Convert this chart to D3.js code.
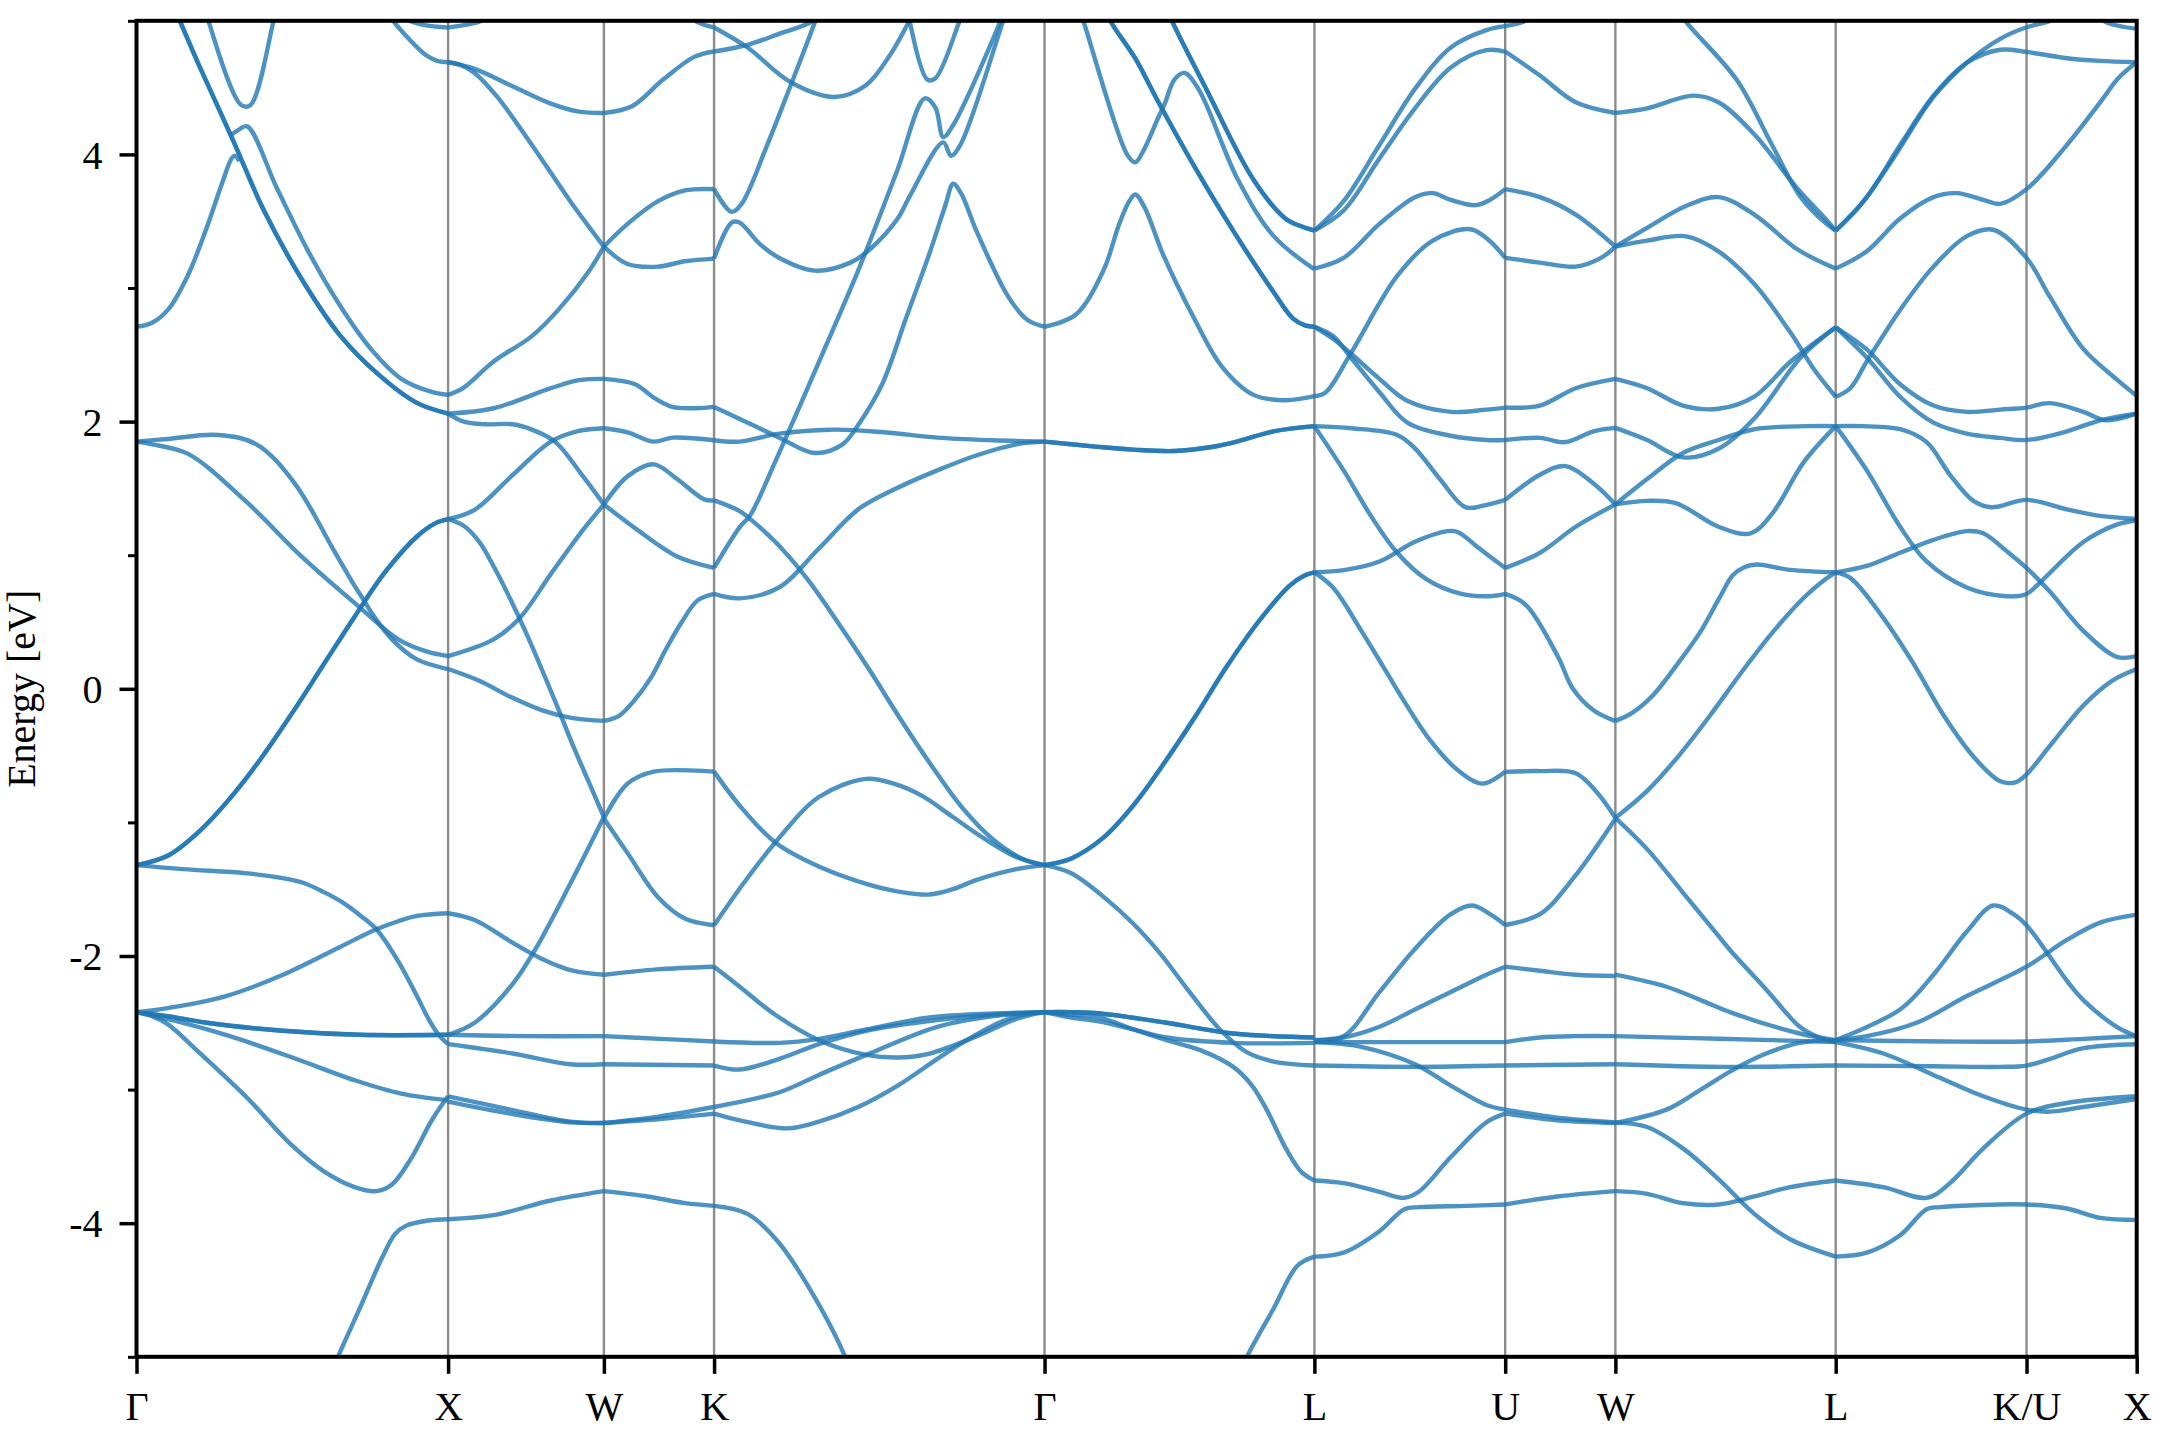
<!DOCTYPE html>
<html><head><meta charset="utf-8">
<script src="https://cdn.jsdelivr.net/npm/d3@7"></script>
<style>html,body{margin:0;padding:0;background:#fff;} svg{display:block;}</style>
</head><body><div id="chart"></div>
<script>
// High-symmetry path (k in units of 2π/a) and labels
const kTicks = [0, 1.0, 1.5, 1.8536, 2.9142, 3.7802, 4.3926, 4.7462, 5.4533, 6.0657, 6.4193];
const kLabels = ["Γ", "X", "W", "K", "Γ", "L", "U", "W", "L", "K/U", "X"];
const yMajor = [-4, -2, 0, 2, 4];
const yMinor = [-5, -3, -1, 1, 3, 5];

// Bands, segment by segment: each curve is a list of [k, E(eV)]
const gxPair = [[0.12,5.1],[0.139,5.0],[0.2,4.67],[0.311,4.10],[0.409,3.58],[0.532,3.06],[0.655,2.64],[0.778,2.35],[0.9,2.14],[1.0,2.06]];
const gxRise = [[0,-1.32],[0.1,-1.25],[0.2,-1.07],[0.3,-0.82],[0.4,-0.52],[0.5,-0.18],[0.6,0.18],[0.7,0.54],[0.8,0.88],[0.9,1.14],[0.96,1.24],[1.0,1.27]];
const gxFlat = [[0,-2.42],[0.1,-2.45],[0.225,-2.50],[0.47,-2.56],[0.716,-2.59],[1.0,-2.59]];
const bandsGX = [
  gxPair, gxPair, gxRise, gxRise, gxFlat, gxFlat,
  [[0,2.71],[0.05,2.74],[0.102,2.84],[0.164,3.09],[0.225,3.45],[0.274,3.78],[0.305,3.97],[0.315,3.99],[0.33,3.95]],
  [[0.30,4.14],[0.325,4.18],[0.355,4.21],[0.45,3.75],[0.55,3.28],[0.65,2.88],[0.75,2.55],[0.85,2.32],[0.95,2.22],[1.0,2.20]],
  [[0.22,5.1],[0.231,5.0],[0.336,4.37],[0.366,4.37],[0.44,5.0],[0.452,5.1]],
  [[0.81,5.05],[0.827,4.99],[0.876,4.86],[0.925,4.75],[0.965,4.70],[1.0,4.69]],
  [[0.84,5.03],[0.92,4.97],[1.0,4.95]],
  [[0,1.85],[0.1,1.87],[0.262,1.90],[0.385,1.83],[0.507,1.54],[0.63,1.05],[0.70,0.77],[0.725,0.68],[0.76,0.55],[0.82,0.37],[0.9,0.22],[1.0,0.148]],
  [[0,1.85],[0.05,1.83],[0.164,1.76],[0.348,1.41],[0.532,0.985],[0.716,0.61],[0.84,0.37],[0.93,0.28],[1.0,0.245]],
  [[0,-1.32],[0.15,-1.35],[0.348,-1.38],[0.45,-1.41],[0.532,-1.45],[0.6,-1.52],[0.655,-1.59],[0.72,-1.70],[0.77,-1.80],[0.84,-2.04],[0.9,-2.3],[0.937,-2.47],[0.97,-2.59],[1.0,-2.66]],
  [[0,-2.42],[0.1,-2.39],[0.287,-2.30],[0.47,-2.14],[0.655,-1.93],[0.77,-1.80],[0.84,-1.74],[0.9,-1.70],[1.0,-1.68]],
  [[0,-2.42],[0.15,-2.5],[0.3,-2.6],[0.5,-2.76],[0.7,-2.93],[0.85,-3.03],[1.0,-3.08]],
  [[0,-2.42],[0.05,-2.45],[0.1,-2.51],[0.2,-2.72],[0.35,-3.05],[0.5,-3.42],[0.6,-3.61],[0.7,-3.73],[0.77,-3.76],[0.82,-3.71],[0.88,-3.52],[0.95,-3.22],[1.0,-3.05]],
  [[0.63,-5.1],[0.643,-5.02],[0.716,-4.64],[0.79,-4.25],[0.83,-4.08],[0.864,-4.02],[0.937,-3.98],[1.0,-3.97]]
];

const bandsXW = [
  [[1.0,4.95],[1.08,4.98],[1.16,5.05]],
  [[1.0,4.69],[1.085,4.64],[1.207,4.51],[1.33,4.38],[1.42,4.32],[1.5,4.31]],
  [[1.0,4.69],[1.04,4.67],[1.085,4.61],[1.158,4.43],[1.269,4.07],[1.392,3.65],[1.5,3.31]],
  [[1.0,2.20],[1.048,2.25],[1.146,2.45],[1.269,2.64],[1.355,2.84],[1.453,3.13],[1.5,3.31]],
  [[1.0,2.06],[1.146,2.10],[1.33,2.25],[1.42,2.31],[1.5,2.32]],
  [[1.0,2.06],[1.05,2.0],[1.12,1.98],[1.207,1.98],[1.269,1.94],[1.343,1.85],[1.43,1.60],[1.5,1.38]],
  [[1.0,1.27],[1.085,1.34],[1.207,1.60],[1.33,1.85],[1.42,1.93],[1.5,1.95]],
  [[1.0,1.27],[1.05,1.22],[1.1,1.1],[1.15,0.9],[1.2,0.67],[1.25,0.42],[1.3,0.15],[1.35,-0.13],[1.4,-0.42],[1.45,-0.69],[1.5,-0.96]],
  [[1.0,0.245],[1.146,0.37],[1.23,0.53],[1.33,0.86],[1.43,1.18],[1.5,1.38]],
  [[1.0,0.148],[1.1,0.06],[1.2,-0.06],[1.3,-0.16],[1.4,-0.22],[1.5,-0.24]],
  [[1.0,-1.68],[1.085,-1.73],[1.2,-1.89],[1.3,-2.02],[1.4,-2.11],[1.5,-2.14]],
  [[1.0,-2.59],[1.085,-2.5],[1.207,-2.21],[1.28,-1.95],[1.392,-1.46],[1.5,-0.96]],
  [[1.0,-2.59],[1.25,-2.60],[1.5,-2.60]],
  [[1.0,-2.66],[1.207,-2.73],[1.392,-2.81],[1.5,-2.81]],
  [[1.0,-3.05],[1.2,-3.15],[1.392,-3.24],[1.5,-3.25]],
  [[1.0,-3.09],[1.2,-3.18],[1.392,-3.245],[1.5,-3.25]],
  [[1.0,-3.97],[1.146,-3.94],[1.33,-3.83],[1.5,-3.76]]
];

const bandsWK = [
  [[1.5,4.31],[1.59,4.36],[1.69,4.56],[1.79,4.73],[1.8536,4.77]],
  [[1.77,5.05],[1.8,4.99],[1.8536,4.95]],
  [[1.5,3.31],[1.576,3.48],[1.674,3.65],[1.76,3.73],[1.8536,3.74]],
  [[1.5,3.31],[1.576,3.18],[1.674,3.16],[1.76,3.2],[1.8536,3.22]],
  [[1.5,2.32],[1.6,2.28],[1.66,2.18],[1.72,2.11],[1.79,2.10],[1.8536,2.11]],
  [[1.5,1.95],[1.576,1.92],[1.66,1.85],[1.72,1.88],[1.8536,1.86]],
  [[1.5,1.38],[1.576,1.59],[1.66,1.68],[1.735,1.57],[1.82,1.42],[1.8536,1.41]],
  [[1.5,1.38],[1.613,1.18],[1.735,0.99],[1.8536,0.905]],
  [[1.5,-0.24],[1.55,-0.2],[1.6,-0.08],[1.65,0.08],[1.7,0.3],[1.75,0.5],[1.8,0.66],[1.8536,0.71]],
  [[1.5,-0.97],[1.576,-0.71],[1.66,-0.62],[1.8536,-0.62]],
  [[1.5,-0.97],[1.576,-1.23],[1.674,-1.56],[1.76,-1.72],[1.8536,-1.77]],
  [[1.5,-2.14],[1.67,-2.10],[1.8536,-2.08]],
  [[1.5,-2.60],[1.68,-2.62],[1.8536,-2.64]],
  [[1.5,-2.81],[1.8536,-2.82]],
  [[1.5,-3.25],[1.68,-3.2],[1.8536,-3.13]],
  [[1.5,-3.25],[1.68,-3.22],[1.8536,-3.18]],
  [[1.5,-3.76],[1.64,-3.80],[1.76,-3.85],[1.8536,-3.87]]
];

const bandsKG = [
  [[1.8536,4.95],[1.961,4.80],[2.1,4.54],[2.24,4.43],[2.342,4.52],[2.42,4.75],[2.48,5.0],[2.49,5.05]],
  [[1.8536,4.77],[1.961,4.82],[2.06,4.90],[2.164,4.99],[2.19,5.05]],
  [[2.478,5.05],[2.482,4.99],[2.538,4.56],[2.564,4.57],[2.64,4.99],[2.65,5.05]],
  [[1.8536,3.74],[1.91,3.57],[1.942,3.63],[2.024,4.07],[2.1,4.52],[2.177,4.99],[2.19,5.08]],
  [[1.8536,3.22],[1.91,3.49],[1.935,3.49],[2.0,3.33],[2.063,3.225],[2.177,3.13],[2.291,3.19],[2.354,3.29],[2.443,3.52],[2.48,3.68],[2.589,4.09],[2.614,3.99],[2.646,4.08],[2.78,4.99],[2.79,5.05]],
  [[1.8536,2.11],[1.936,2.02],[2.063,1.88],[2.177,1.765],[2.266,1.83],[2.316,1.975],[2.393,2.28],[2.469,2.77],[2.545,3.26],[2.596,3.62],[2.621,3.78],[2.646,3.71],[2.697,3.42],[2.799,2.93],[2.86,2.76],[2.9142,2.71]],
  [[1.8536,1.86],[1.936,1.85],[2.063,1.91],[2.24,1.94],[2.4,1.92],[2.57,1.88],[2.75,1.86],[2.9142,1.85]],
  [[1.8536,0.905],[1.936,1.21],[1.97,1.30],[2.05,1.70],[2.12,2.07],[2.2,2.50],[2.316,3.13],[2.44,3.87],[2.53,4.42],[2.564,4.35],[2.589,4.13],[2.621,4.22],[2.773,5.0],[2.785,5.08]],
  [[1.8536,1.41],[1.936,1.33],[1.97,1.27],[2.05,1.1],[2.15,0.83],[2.25,0.5],[2.35,0.15],[2.45,-0.22],[2.55,-0.57],[2.65,-0.89],[2.75,-1.13],[2.85,-1.28],[2.9142,-1.32]],
  [[1.8536,0.71],[1.936,0.677],[2.063,0.76],[2.19,1.05],[2.316,1.343],[2.443,1.505],[2.57,1.635],[2.697,1.748],[2.824,1.83],[2.9142,1.85]],
  [[1.8536,-0.62],[1.936,-0.875],[2.05,-1.15],[2.19,-1.33],[2.342,-1.46],[2.45,-1.52],[2.545,-1.54],[2.62,-1.50],[2.697,-1.43],[2.824,-1.35],[2.9142,-1.32]],
  [[1.8536,-1.77],[1.95,-1.45],[2.05,-1.15],[2.19,-0.81],[2.342,-0.674],[2.43,-0.71],[2.52,-0.8],[2.62,-0.96],[2.72,-1.12],[2.824,-1.26],[2.9142,-1.32]],
  [[1.8536,-2.08],[1.936,-2.23],[2.05,-2.44],[2.19,-2.63],[2.342,-2.74],[2.443,-2.76],[2.545,-2.73],[2.697,-2.6],[2.824,-2.47],[2.9142,-2.42]],
  [[1.8536,-2.64],[2.063,-2.65],[2.19,-2.62],[2.342,-2.55],[2.545,-2.46],[2.75,-2.43],[2.9142,-2.42]],
  [[1.8536,-2.82],[1.936,-2.85],[2.063,-2.77],[2.19,-2.66],[2.342,-2.56],[2.57,-2.48],[2.75,-2.44],[2.9142,-2.42]],
  [[1.8536,-3.13],[2.063,-3.02],[2.19,-2.89],[2.342,-2.74],[2.57,-2.53],[2.75,-2.45],[2.9142,-2.42]],
  [[1.8536,-3.18],[1.936,-3.23],[2.09,-3.29],[2.19,-3.24],[2.316,-3.13],[2.443,-2.97],[2.57,-2.77],[2.65,-2.65],[2.75,-2.52],[2.824,-2.45],[2.9142,-2.42]],
  [[1.8536,-3.87],[1.961,-3.93],[2.063,-4.15],[2.19,-4.61],[2.278,-5.02],[2.29,-5.1]]
];

const glPair = [[3.12,5.05],[3.128,4.99],[3.205,4.72],[3.28,4.39],[3.395,3.91],[3.522,3.42],[3.649,2.97],[3.712,2.77],[3.75,2.72],[3.7802,2.71]];
const glTop = [[3.315,5.05],[3.325,4.99],[3.433,4.49],[3.585,3.81],[3.687,3.52],[3.74,3.46],[3.7802,3.43]];
const glFlat = [[2.9142,1.85],[3.078,1.813],[3.2,1.79],[3.331,1.78],[3.45,1.81],[3.522,1.845],[3.649,1.927],[3.7802,1.966]];
const glRise = [[2.9142,-1.32],[3.0,-1.27],[3.1,-1.12],[3.2,-0.87],[3.3,-0.55],[3.4,-0.2],[3.5,0.17],[3.6,0.5],[3.7,0.77],[3.75,0.85],[3.7802,0.872]];
const glD1 = [[2.9142,-2.42],[3.0,-2.42],[3.0925,-2.43],[3.306,-2.5],[3.52,-2.58],[3.7802,-2.61]];
const glD2 = [[2.9142,-2.42],[3.0,-2.46],[3.0925,-2.49],[3.2,-2.55],[3.306,-2.61],[3.52,-2.65],[3.7802,-2.65]];
const bandsGL = [
  glPair, glPair, glTop, glTop, glFlat, glFlat, glRise, glRise, glD1, glD1, glD2,
  [[2.9142,2.71],[3.014,2.80],[3.103,3.13],[3.154,3.48],[3.186,3.65],[3.205,3.70],[3.236,3.60],[3.293,3.26],[3.395,2.77],[3.484,2.41],[3.585,2.20],[3.687,2.16],[3.7802,2.19]],
  [[3.03,5.05],[3.04,4.99],[3.179,4.0],[3.205,3.94],[3.23,4.02],[3.28,4.28],[3.30,4.38],[3.331,4.56],[3.363,4.61],[3.408,4.49],[3.535,3.81],[3.649,3.39],[3.7802,3.14]],
  [[2.9142,-1.32],[3.0,-1.38],[3.1,-1.55],[3.2,-1.76],[3.285,-1.98],[3.37,-2.24],[3.477,-2.55],[3.563,-2.72],[3.65,-2.79],[3.7802,-2.82]],
  [[2.9142,-2.42],[3.0,-2.44],[3.09,-2.46],[3.2,-2.55],[3.306,-2.63],[3.42,-2.71],[3.52,-2.83],[3.58,-2.97],[3.627,-3.15],[3.691,-3.45],[3.74,-3.62],[3.7802,-3.68]],
  [[3.55,-5.1],[3.56,-5.02],[3.649,-4.64],[3.725,-4.32],[3.7802,-4.25]]
];

const bandsLU = [
  [[3.7802,3.43],[3.874,3.65],[3.989,4.07],[4.103,4.49],[4.218,4.8],[4.332,4.93],[4.3926,4.96]],
  [[3.7802,3.43],[3.874,3.58],[3.989,3.97],[4.103,4.345],[4.218,4.65],[4.332,4.78],[4.3926,4.77]],
  [[3.7802,3.145],[3.874,3.225],[3.989,3.48],[4.103,3.68],[4.16,3.71],[4.218,3.66],[4.298,3.62],[4.344,3.66],[4.3926,3.74]],
  [[3.7802,2.19],[3.817,2.22],[3.897,2.51],[4.046,3.09],[4.16,3.355],[4.281,3.44],[4.344,3.35],[4.3926,3.225]],
  [[3.7802,2.71],[3.84,2.64],[3.897,2.48],[3.989,2.22],[4.08,1.99],[4.218,1.894],[4.332,1.862],[4.3926,1.862]],
  [[3.7802,2.71],[3.84,2.62],[3.897,2.51],[3.989,2.32],[4.08,2.154],[4.218,2.073],[4.332,2.09],[4.3926,2.105]],
  [[3.7802,1.966],[3.9,1.95],[4.046,1.90],[4.103,1.80],[4.183,1.57],[4.264,1.36],[4.321,1.37],[4.3926,1.414]],
  [[3.7802,1.966],[3.874,1.635],[3.966,1.278],[4.046,1.018],[4.138,0.823],[4.252,0.71],[4.344,0.693],[4.3926,0.71]],
  [[3.7802,0.872],[3.874,0.888],[3.989,0.953],[4.103,1.1],[4.206,1.18],[4.24,1.174],[4.31,1.05],[4.3926,0.905]],
  [[3.7802,0.872],[3.84,0.758],[3.931,0.434],[4.0,0.17],[4.07,-0.1],[4.15,-0.38],[4.241,-0.61],[4.321,-0.71],[4.3926,-0.62]],
  [[3.7802,-2.63],[3.874,-2.6],[3.989,-2.27],[4.103,-1.947],[4.218,-1.687],[4.287,-1.622],[4.344,-1.687],[4.3926,-1.768]],
  [[3.7802,-2.63],[3.874,-2.61],[3.989,-2.53],[4.103,-2.40],[4.218,-2.27],[4.332,-2.14],[4.3926,-2.08]],
  [[3.7802,-2.645],[4.1,-2.645],[4.3926,-2.645]],
  [[3.7802,-2.645],[3.93,-2.68],[4.103,-2.81],[4.218,-2.97],[4.332,-3.115],[4.3926,-3.15]],
  [[3.7802,-2.82],[4.1,-2.83],[4.3926,-2.82]],
  [[3.7802,-3.68],[3.874,-3.70],[3.989,-3.765],[4.069,-3.81],[4.115,-3.765],[4.218,-3.505],[4.332,-3.245],[4.3926,-3.18]],
  [[3.7802,-4.25],[3.874,-4.22],[3.989,-4.06],[4.069,-3.895],[4.115,-3.88],[4.27,-3.87],[4.3926,-3.86]]
];

const bandsUW = [
  [[4.3926,4.96],[4.447,4.99],[4.5,5.05]],
  [[4.3926,4.77],[4.504,4.59],[4.619,4.39],[4.7462,4.31]],
  [[4.3926,3.74],[4.504,3.68],[4.619,3.55],[4.7462,3.31]],
  [[4.3926,3.225],[4.504,3.19],[4.619,3.16],[4.7,3.225],[4.7462,3.31]],
  [[4.3926,2.105],[4.504,2.12],[4.619,2.25],[4.7462,2.32]],
  [[4.3926,1.862],[4.504,1.878],[4.585,1.846],[4.676,1.927],[4.7462,1.953]],
  [[4.3926,1.414],[4.504,1.602],[4.585,1.667],[4.676,1.537],[4.7462,1.38]],
  [[4.3926,0.905],[4.504,1.018],[4.619,1.213],[4.7462,1.38]],
  [[4.3926,0.71],[4.458,0.63],[4.562,0.24],[4.61,0.0],[4.676,-0.161],[4.7462,-0.242]],
  [[4.3926,-0.622],[4.504,-0.616],[4.619,-0.632],[4.688,-0.778],[4.7462,-0.966]],
  [[4.3926,-1.768],[4.504,-1.687],[4.619,-1.395],[4.7462,-0.973]],
  [[4.3926,-2.08],[4.504,-2.11],[4.619,-2.14],[4.7462,-2.15]],
  [[4.3926,-2.645],[4.504,-2.61],[4.619,-2.60],[4.7462,-2.60]],
  [[4.3926,-2.82],[4.7462,-2.81]],
  [[4.3926,-3.15],[4.56,-3.21],[4.7462,-3.245]],
  [[4.3926,-3.18],[4.56,-3.23],[4.7462,-3.25]],
  [[4.3926,-3.86],[4.56,-3.80],[4.7462,-3.76]]
];

const bandsWL = [
  [[4.95,5.08],[4.974,4.99],[5.135,4.56],[5.249,4.07],[5.341,3.68],[5.421,3.485],[5.4533,3.43]],
  [[4.7462,4.31],[4.848,4.345],[4.997,4.44],[5.077,4.39],[5.192,4.15],[5.33,3.745],[5.421,3.517],[5.4533,3.43]],
  [[4.7462,3.31],[4.848,3.45],[4.974,3.615],[5.077,3.68],[5.192,3.55],[5.33,3.29],[5.4533,3.145]],
  [[4.7462,3.31],[4.848,3.355],[4.974,3.387],[5.077,3.274],[5.192,3.03],[5.307,2.67],[5.387,2.38],[5.4533,2.186]],
  [[4.7462,2.32],[4.848,2.25],[4.963,2.12],[5.077,2.096],[5.192,2.187],[5.307,2.446],[5.4533,2.706]],
  [[4.7462,1.953],[4.848,1.862],[4.963,1.732],[5.077,1.797],[5.192,2.024],[5.341,2.48],[5.4533,2.706]],
  [[4.7462,1.38],[4.848,1.407],[4.94,1.39],[5.077,1.213],[5.18,1.164],[5.249,1.31],[5.352,1.70],[5.4533,1.966]],
  [[4.7462,1.38],[4.848,1.57],[4.963,1.765],[5.077,1.862],[5.192,1.943],[5.364,1.966],[5.4533,1.966]],
  [[4.7462,-0.24],[4.8,-0.18],[4.87,-0.04],[4.95,0.2],[5.02,0.43],[5.08,0.68],[5.123,0.85],[5.16,0.91],[5.2,0.93],[5.307,0.89],[5.4533,0.872]],
  [[4.7462,-0.966],[4.85,-0.76],[4.95,-0.5],[5.05,-0.2],[5.15,0.12],[5.25,0.42],[5.35,0.68],[5.42,0.82],[5.4533,0.872]],
  [[4.7462,-0.966],[4.848,-1.2],[4.963,-1.525],[5.077,-1.85],[5.114,-1.955],[5.23,-2.25],[5.338,-2.53],[5.4,-2.61],[5.4533,-2.645]],
  [[4.7462,-2.14],[4.91,-2.23],[5.02,-2.33],[5.125,-2.43],[5.338,-2.58],[5.4533,-2.63]],
  [[4.7462,-2.60],[5.0,-2.615],[5.25,-2.63],[5.4533,-2.645]],
  [[4.7462,-2.81],[5.1,-2.83],[5.4533,-2.82]],
  [[4.7462,-3.25],[4.91,-3.15],[5.02,-3.0],[5.125,-2.85],[5.23,-2.73],[5.338,-2.65],[5.4533,-2.63]],
  [[4.7462,-3.245],[4.848,-3.28],[4.963,-3.44],[5.077,-3.67],[5.192,-3.93],[5.307,-4.12],[5.4533,-4.25]],
  [[4.7462,-3.76],[4.848,-3.78],[4.963,-3.85],[5.077,-3.86],[5.192,-3.80],[5.307,-3.73],[5.4533,-3.68]]
];

const bandsLX = [
  [[5.4533,3.43],[5.531,3.615],[5.638,3.97],[5.767,4.43],[5.874,4.686],[5.981,4.865],[6.0657,4.952],[6.13,4.99],[6.2,5.05]],
  [[6.29,5.05],[6.32,4.99],[6.4193,4.94]],
  [[5.4533,3.43],[5.553,3.68],[5.66,4.07],[5.767,4.44],[5.874,4.686],[5.981,4.783],[6.0657,4.767],[6.195,4.72],[6.3,4.70],[6.4193,4.69]],
  [[5.4533,3.145],[5.553,3.275],[5.66,3.52],[5.767,3.68],[5.842,3.71],[5.927,3.66],[5.981,3.63],[6.0657,3.74],[6.195,4.07],[6.302,4.39],[6.36,4.57],[6.4193,4.69]],
  [[5.4533,2.706],[5.553,2.54],[5.66,2.28],[5.767,2.12],[5.874,2.073],[5.981,2.09],[6.0657,2.105],[6.14,2.138],[6.248,2.073],[6.32,2.01],[6.4193,2.06]],
  [[5.4533,2.706],[5.553,2.48],[5.66,2.186],[5.767,1.992],[5.874,1.91],[5.981,1.878],[6.0657,1.862],[6.195,1.927],[6.302,2.01],[6.4193,2.06]],
  [[5.4533,2.186],[5.5,2.25],[5.553,2.45],[5.66,2.836],[5.767,3.16],[5.874,3.388],[5.959,3.436],[6.0657,3.225],[6.141,2.933],[6.248,2.544],[6.355,2.316],[6.4193,2.193]],
  [[5.4533,1.966],[5.66,1.943],[5.745,1.846],[5.82,1.602],[5.895,1.407],[5.954,1.359],[6.0657,1.414],[6.195,1.343],[6.302,1.294],[6.4193,1.271]],
  [[5.4533,1.966],[5.553,1.635],[5.66,1.213],[5.745,0.953],[5.874,0.758],[6.0,0.693],[6.0657,0.71],[6.1,0.775],[6.248,1.099],[6.355,1.229],[6.4193,1.262]],
  [[5.4533,0.872],[5.553,0.92],[5.66,1.018],[5.767,1.115],[5.874,1.18],[5.927,1.164],[6.0,1.034],[6.0657,0.905],[6.141,0.726],[6.248,0.434],[6.355,0.239],[6.4193,0.245]],
  [[5.4533,0.872],[5.5,0.83],[5.6,0.55],[5.7,0.2],[5.8,-0.2],[5.9,-0.52],[5.98,-0.69],[6.03,-0.70],[6.0657,-0.64],[6.15,-0.4],[6.25,-0.12],[6.34,0.06],[6.4193,0.148]],
  [[5.4533,-2.63],[5.66,-2.40],[5.767,-2.14],[5.874,-1.817],[5.959,-1.622],[6.024,-1.687],[6.0657,-1.77],[6.2,-2.2],[6.248,-2.33],[6.355,-2.53],[6.4193,-2.60]],
  [[5.4533,-2.63],[5.553,-2.60],[5.713,-2.50],[5.874,-2.30],[6.0657,-2.08],[6.195,-1.88],[6.302,-1.75],[6.4193,-1.69]],
  [[5.4533,-2.63],[5.8,-2.64],[6.0657,-2.64],[6.25,-2.62],[6.4193,-2.60]],
  [[5.4533,-2.82],[5.767,-2.825],[5.981,-2.83],[6.0657,-2.82],[6.141,-2.77],[6.248,-2.69],[6.4193,-2.66]],
  [[5.4533,-2.645],[5.606,-2.73],[5.767,-2.89],[5.927,-3.05],[6.0657,-3.15],[6.141,-3.165],[6.248,-3.13],[6.4193,-3.07]],
  [[5.4533,-3.68],[5.606,-3.73],[5.745,-3.81],[5.82,-3.70],[5.927,-3.44],[6.0657,-3.18],[6.195,-3.10],[6.4193,-3.05]],
  [[5.4533,-4.25],[5.553,-4.22],[5.66,-4.09],[5.745,-3.895],[5.788,-3.88],[6.0657,-3.86],[6.195,-3.89],[6.302,-3.96],[6.4193,-3.975]]
];

// ---------- drawing ----------
const W = 2160, H = 1440;
const kMax = kTicks[kTicks.length - 1];
const x = d3.scaleLinear().domain([0, kMax]).range([136.5, 2136.7]);
const y = d3.scaleLinear().domain([-5, 5]).range([1356.8, 20.8]);
const FONT = "'Liberation Serif','Times New Roman',Times,serif";

const svg = d3.select('#chart').append('svg')
  .attr('width', W).attr('height', H).attr('viewBox', `0 0 ${W} ${H}`)
  .style('background', '#fff');
svg.append('rect').attr('width', W).attr('height', H).attr('fill', '#fff');

svg.append('defs').append('clipPath').attr('id', 'plotclip')
  .append('rect').attr('x', x(0)).attr('y', y(5))
  .attr('width', x(kMax) - x(0)).attr('height', y(-5) - y(5));

// high-symmetry vertical lines
svg.append('g').selectAll('line').data(kTicks.slice(1, -1)).join('line')
  .attr('x1', d => x(d)).attr('x2', d => x(d))
  .attr('y1', y(5)).attr('y2', y(-5))
  .attr('stroke', '#000').attr('stroke-opacity', 0.45).attr('stroke-width', 2.4);

// bands
const allBands = [].concat(bandsGX, bandsXW, bandsWK, bandsKG, bandsGL, bandsLU, bandsUW, bandsWL, bandsLX);
const lineGen = d3.line().x(d => x(d[0])).y(d => y(d[1])).curve(d3.curveCatmullRom.alpha(0.5));
svg.append('g').attr('clip-path', 'url(#plotclip)')
  .selectAll('path').data(allBands).join('path')
  .attr('d', lineGen)
  .attr('fill', 'none')
  .attr('stroke', '#1f77b4')
  .attr('stroke-opacity', 0.8)
  .attr('stroke-width', 4.4)
  .attr('stroke-linejoin', 'round');

// x axis (bottom)
const xAxis = d3.axisBottom(x).tickValues(kTicks)
  .tickFormat(d => kLabels[kTicks.indexOf(d)])
  .tickSize(17).tickSizeOuter(0).tickPadding(18);
const gx = svg.append('g').attr('transform', `translate(0,${y(-5)})`).call(xAxis);
gx.select('.domain').remove();
gx.selectAll('.tick line').attr('stroke', '#000').attr('stroke-width', 3.5);
gx.selectAll('.tick text').attr('font-family', FONT).attr('font-size', 40).attr('fill', '#000');

// y axis major
const yAxis = d3.axisLeft(y).tickValues(yMajor).tickFormat(d => String(d))
  .tickSize(17).tickSizeOuter(0).tickPadding(17);
const gy = svg.append('g').attr('transform', `translate(${x(0)},0)`).call(yAxis);
gy.select('.domain').remove();
gy.selectAll('.tick line').attr('stroke', '#000').attr('stroke-width', 3.5);
gy.selectAll('.tick text').attr('font-family', FONT).attr('font-size', 40).attr('fill', '#000')
  .attr('dy', '0.34em');

// y axis minor
const yAxisMinor = d3.axisLeft(y).tickValues(yMinor).tickFormat('').tickSize(8.5).tickSizeOuter(0);
const gym = svg.append('g').attr('transform', `translate(${x(0)},0)`).call(yAxisMinor);
gym.select('.domain').remove();
gym.selectAll('.tick line').attr('stroke', '#000').attr('stroke-width', 3);

// frame
svg.append('rect')
  .attr('x', x(0)).attr('y', y(5))
  .attr('width', x(kMax) - x(0)).attr('height', y(-5) - y(5))
  .attr('fill', 'none').attr('stroke', '#000').attr('stroke-width', 4);

// y label
svg.append('text')
  .attr('transform', `translate(34.6,${y(0)}) rotate(-90)`)
  .attr('text-anchor', 'middle')
  .attr('font-family', FONT).attr('font-size', 40).attr('fill', '#000')
  .text('Energy [eV]');
</script>
</body></html>
